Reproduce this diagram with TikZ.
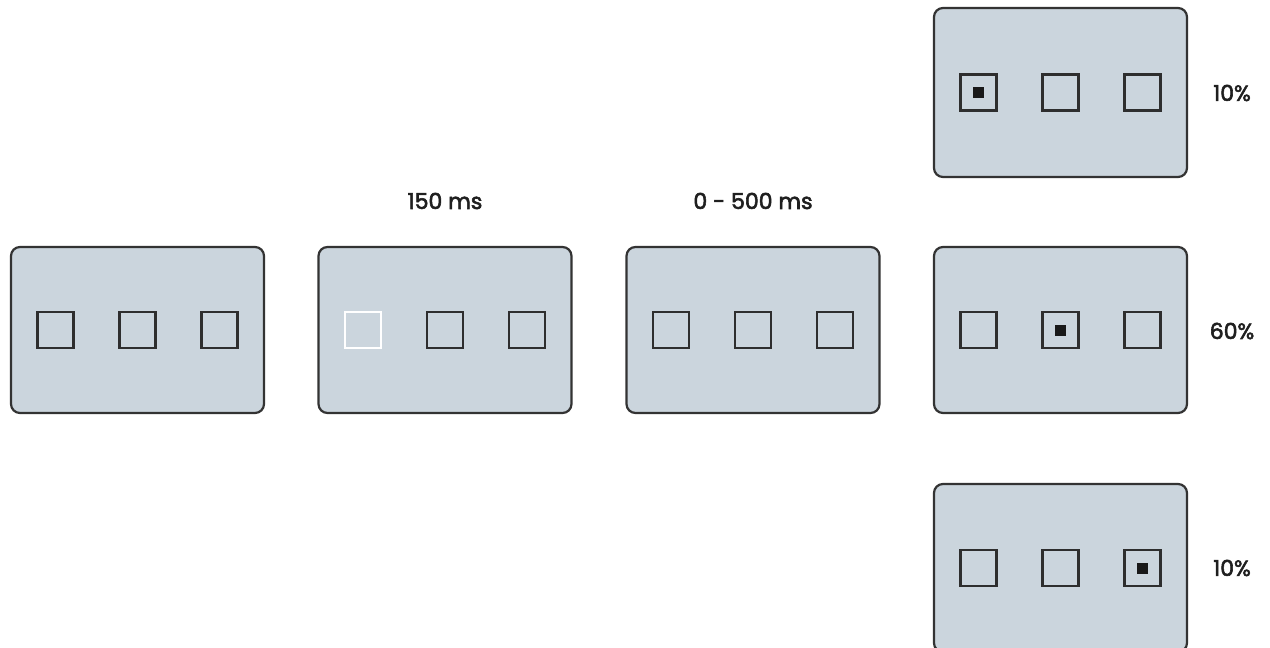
\documentclass[tikz,border=0pt]{standalone}
\usepackage{fontspec}
\setmainfont{Poppins}
\newfontfamily\lblfont[FakeBold=2.6]{Poppins}
\begin{document}
\begin{tikzpicture}[x=1pt,y=-1pt,
  panel/.style={draw=black!80, line width=2.2pt, fill=panelfill, rounded corners=9pt,
    minimum width=253pt, minimum height=166pt, inner sep=0pt},
  slot/.style={draw=black!82, line width=2.3pt, minimum size=36pt, inner sep=0pt},
  cue/.style={slot, draw=white},
  dot/.style={fill=black!90, minimum size=11pt, inner sep=0pt},
  lbl/.style={font=\lblfont\fontsize{22}{25}\selectfont, text=black!88, inner sep=0pt}]
\definecolor{panelfill}{HTML}{CBD5DD}
\useasboundingbox (0,0) rectangle (1270,648);
% sequence of displays
\foreach \n/\cx/\cy/\h in {a/137.5/330/166, b/445/330/166, c/753/330/166,
                           d/1060.5/92.5/169, e/1060.5/330/166, f/1060.5/568/168} {
  \node[panel, minimum height=\h pt] (\n) at (\cx,\cy) {};
  \node[slot] (\n1) at (\cx-82,\cy) {};
  \node[slot] (\n2) at (\cx,\cy) {};
  \node[slot] (\n3) at (\cx+82,\cy) {};
}
% cue outline in the second display
\node[cue] (bcue) at (b1) {};
% targets
\node[dot] (dtarget) at (d1) {};
\node[dot] (etarget) at (e2) {};
\node[dot] (ftarget) at (f3) {};
% timing and probability labels
\node[lbl] (tb) at (445,201) {150 ms};
\node[lbl] (tc) at (753,201) {0 - 500 ms};
\node[lbl] (pd) at (1232,93) {10\%};
\node[lbl] (pe) at (1232,331) {60\%};
\node[lbl] (pf) at (1232,568) {10\%};
\end{tikzpicture}
\end{document}
